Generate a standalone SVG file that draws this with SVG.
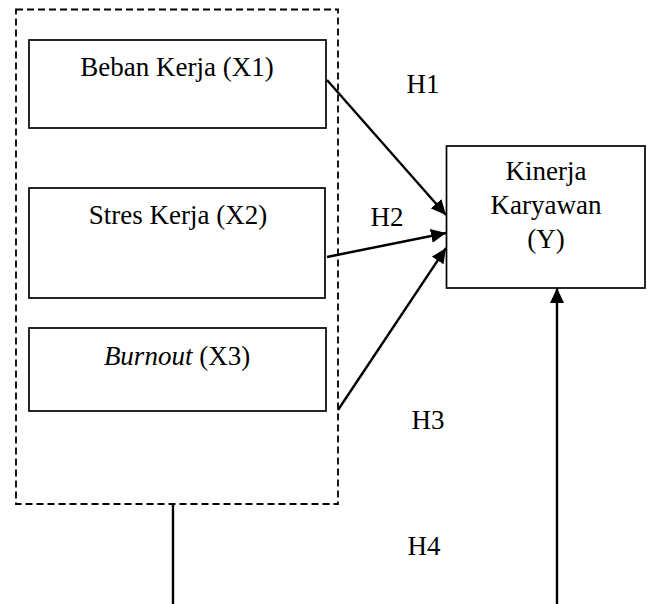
<svg xmlns="http://www.w3.org/2000/svg" width="647" height="604" viewBox="0 0 647 604">
<style>
  .box{fill:#fff;stroke:#000;stroke-width:1.7}
  .t{font-size:27px;fill:#000;text-anchor:middle}
  .c{stroke:#000;stroke-width:2.4;fill:none}
</style>
<defs>
  <marker id="ah" markerUnits="userSpaceOnUse" markerWidth="15" markerHeight="14" refX="15" refY="7" orient="auto">
    <path d="M0,0 L15,7 L0,14 Z" fill="#000"/>
  </marker>
</defs>
<rect x="16" y="9.5" width="322" height="494.5" fill="none" stroke="#000" stroke-width="1.8" stroke-dasharray="7,4"/>
<g font-family="Liberation Serif, Times New Roman, serif">
<g id="x1">
  <rect class="box" x="29" y="40" width="297" height="88"/>
  <text class="t" x="177" y="76">Beban Kerja (X1)</text>
</g>
<g id="x2">
  <rect class="box" x="29" y="188" width="296" height="110"/>
  <text class="t" x="178" y="224">Stres Kerja (X2)</text>
</g>
<g id="x3">
  <rect class="box" x="29" y="328" width="297" height="83"/>
  <text class="t" x="177" y="365"><tspan font-style="italic">Burnout</tspan> (X3)</text>
</g>
<g id="y">
  <rect class="box" x="446.5" y="146" width="198.5" height="142"/>
  <text class="t" x="546" y="180">Kinerja</text>
  <text class="t" x="546" y="214">Karyawan</text>
  <text class="t" x="546" y="248">(Y)</text>
</g>
<g id="labels">
  <text class="t" x="423" y="93">H1</text>
  <text class="t" x="387" y="226">H2</text>
  <text class="t" x="428" y="429">H3</text>
  <text class="t" x="424" y="555">H4</text>
</g>
</g>
<g id="connectors">
  <line class="c" x1="327" y1="80" x2="446" y2="215" marker-end="url(#ah)"/>
  <line class="c" x1="327" y1="257" x2="446" y2="233" marker-end="url(#ah)"/>
  <line class="c" x1="338" y1="410" x2="446" y2="248" marker-end="url(#ah)"/>
  <line class="c" x1="173" y1="504" x2="173" y2="604"/>
  <line class="c" x1="557" y1="604" x2="557" y2="288" marker-end="url(#ah)"/>
</g>
</svg>
